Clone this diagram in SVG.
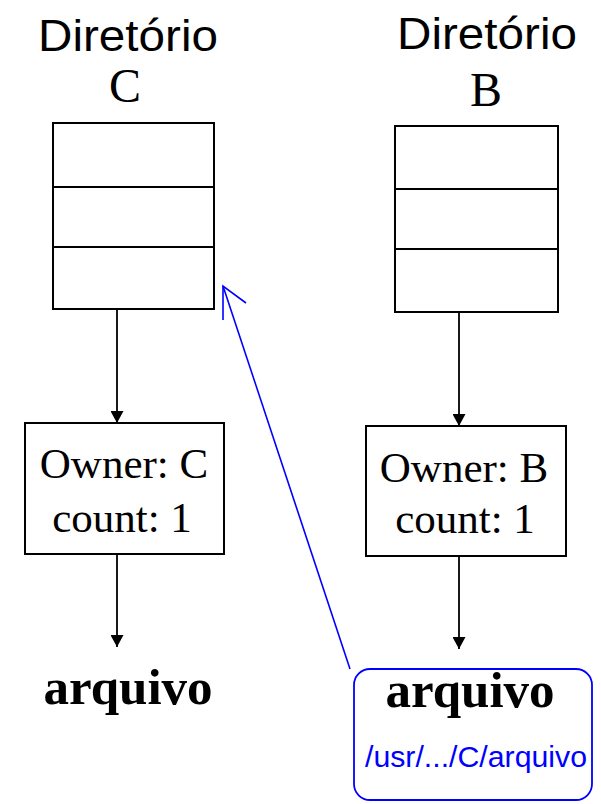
<svg xmlns="http://www.w3.org/2000/svg" width="601" height="804" viewBox="0 0 601 804">
<style>
.title{font-family:"Liberation Sans",Arial,sans-serif;font-size:44px;fill:#000;text-anchor:middle}
.serif{font-family:"Liberation Serif","Times New Roman",serif;fill:#000;text-anchor:middle}
.box{fill:#fff;stroke:#000;stroke-width:2}
.conn{stroke:#000;stroke-width:1.8;fill:none}
.link{stroke:#0000ff;stroke-width:1.6;fill:none}
</style>
<defs>
<marker id="ah" markerWidth="13" markerHeight="13" viewBox="0 0 13 13" refX="12" refY="6.5" orient="auto" markerUnits="userSpaceOnUse">
<path d="M0,0 L12,6.5 L0,13 Z" fill="#000"/>
</marker>
</defs>
<g id="dirC">
<text class="title" x="128" y="51" textLength="180" lengthAdjust="spacingAndGlyphs">Diretório</text>
<text class="serif" x="125" y="102" font-size="48">C</text>
<rect class="box" x="53" y="123" width="161" height="186"/>
<line class="conn" x1="53" y1="187" x2="214" y2="187"/>
<line class="conn" x1="53" y1="247" x2="214" y2="247"/>
</g>
<g id="dirB">
<text class="title" x="487" y="49" textLength="180" lengthAdjust="spacingAndGlyphs">Diretório</text>
<text class="serif" x="486" y="106" font-size="48">B</text>
<rect class="box" x="395" y="126" width="163" height="186"/>
<line class="conn" x1="395" y1="189" x2="558" y2="189"/>
<line class="conn" x1="395" y1="249" x2="558" y2="249"/>
</g>
<g id="inodeC">
<rect class="box" x="25" y="423" width="199" height="131"/>
<text class="serif" x="124" y="478" font-size="43">Owner: C</text>
<text class="serif" x="122" y="532" font-size="43">count: 1</text>
</g>
<g id="inodeB">
<rect class="box" x="366" y="426" width="200" height="130"/>
<text class="serif" x="464" y="482" font-size="43">Owner: B</text>
<text class="serif" x="465" y="533" font-size="43">count: 1</text>
</g>
<g id="fileC">
<text class="serif" x="128" y="704" font-size="51" font-weight="bold">arquivo</text>
</g>
<g id="linkB">
<rect x="354" y="669" width="238" height="131" rx="16" ry="16" fill="none" stroke="#0000ff" stroke-width="1.8"/>
<text class="serif" x="470" y="707" font-size="51" font-weight="bold">arquivo</text>
<text x="476" y="767" font-family="'Liberation Sans',Arial,sans-serif" font-size="29" fill="#0000ff" text-anchor="middle" textLength="222" lengthAdjust="spacingAndGlyphs">/usr/.../C/arquivo</text>
</g>
<g id="connectors">
<line class="conn" x1="117" y1="309" x2="117" y2="423" marker-end="url(#ah)"/>
<line class="conn" x1="459" y1="312" x2="459" y2="426" marker-end="url(#ah)"/>
<line class="conn" x1="117" y1="554" x2="117" y2="647" marker-end="url(#ah)"/>
<line class="conn" x1="459" y1="556" x2="459" y2="649" marker-end="url(#ah)"/>
<line class="link" x1="350" y1="669" x2="223" y2="286"/>
<path class="link" d="M223,320 L223,286 L246,303"/>
</g>
</svg>
